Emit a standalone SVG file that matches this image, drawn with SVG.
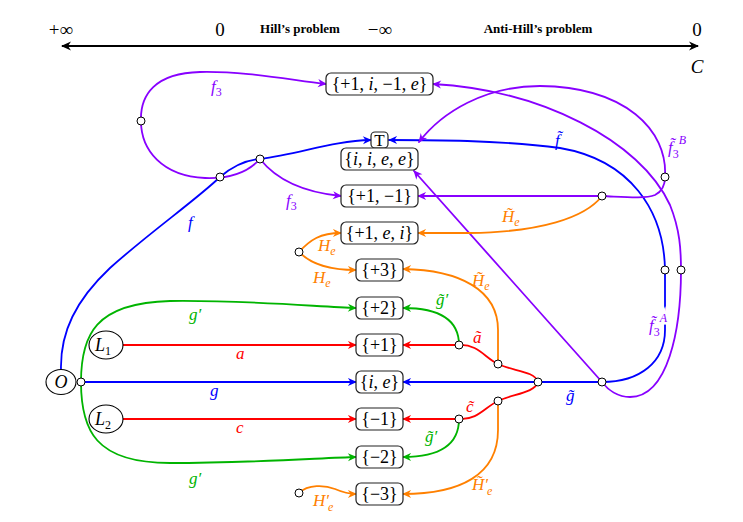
<svg xmlns="http://www.w3.org/2000/svg" width="743" height="522" viewBox="0 0 743 522">
<style>
.c{fill:none;stroke-width:1.8;stroke-linecap:round}
.P{stroke:#8800ff}.B{stroke:#0000ff}.R{stroke:#ff0000}.G{stroke:#00b400}.O{stroke:#ff8000}
.tP{fill:#8800ff}.tB{fill:#0000ff}.tR{fill:#ff0000}.tG{fill:#00b400}.tO{fill:#ff8000}
.box{fill:#fff;stroke:#222;stroke-width:1.2}
.nt{font-family:"Liberation Serif","DejaVu Serif",serif;font-size:18px;text-anchor:middle;fill:#000}
.it{font-style:italic}
.lb{font-family:"Liberation Serif","DejaVu Serif",serif;font-size:17px;font-style:italic}
.sb{font-size:12px;font-style:normal}
.sbi{font-size:12px;font-style:italic}
.ax{font-family:"Liberation Serif","DejaVu Serif",serif;font-size:19px;text-anchor:middle;fill:#000}
.hd{font-family:"Liberation Serif","DejaVu Serif",serif;font-size:13px;font-weight:bold;text-anchor:middle;fill:#000}
.dot{fill:#fff;stroke:#000;stroke-width:1}
.el{fill:#fff;stroke:#000;stroke-width:1.1}
.halo{paint-order:stroke;stroke:#fff;stroke-width:5}
</style>
<defs>
<marker id="aK" viewBox="0 0 10 10" refX="9" refY="5" markerUnits="userSpaceOnUse" markerWidth="12" markerHeight="10" orient="auto-start-reverse"><path d="M0,0.5 L10,5 L0,9.5 L3,5z" fill="#000"/></marker>
<marker id="aP" viewBox="0 0 10 10" refX="9" refY="5" markerUnits="userSpaceOnUse" markerWidth="11" markerHeight="9" orient="auto"><path d="M0,0.5 L10,5 L0,9.5 L3,5z" fill="#8800ff"/></marker>
<marker id="aB" viewBox="0 0 10 10" refX="9" refY="5" markerUnits="userSpaceOnUse" markerWidth="11" markerHeight="9" orient="auto"><path d="M0,0.5 L10,5 L0,9.5 L3,5z" fill="#0000ff"/></marker>
<marker id="aR" viewBox="0 0 10 10" refX="9" refY="5" markerUnits="userSpaceOnUse" markerWidth="11" markerHeight="9" orient="auto"><path d="M0,0.5 L10,5 L0,9.5 L3,5z" fill="#ff0000"/></marker>
<marker id="aG" viewBox="0 0 10 10" refX="9" refY="5" markerUnits="userSpaceOnUse" markerWidth="11" markerHeight="9" orient="auto"><path d="M0,0.5 L10,5 L0,9.5 L3,5z" fill="#00b400"/></marker>
<marker id="aO" viewBox="0 0 10 10" refX="9" refY="5" markerUnits="userSpaceOnUse" markerWidth="11" markerHeight="9" orient="auto"><path d="M0,0.5 L10,5 L0,9.5 L3,5z" fill="#ff8000"/></marker>
</defs>

<g id="axis">
<line x1="62" y1="46" x2="698" y2="46" stroke="#000" stroke-width="2.2" marker-start="url(#aK)" marker-end="url(#aK)"/>
<text class="ax" x="61" y="36">+∞</text>
<text class="ax" x="220" y="36">0</text>
<text class="hd" x="300" y="33">Hill’s problem</text>
<text class="ax" x="380" y="36">−∞</text>
<text class="hd" x="538" y="33">Anti-Hill’s problem</text>
<text class="ax" x="697" y="36">0</text>
<text class="ax it" x="697" y="73">C</text>
</g>

<g id="connectors">
<!-- blue -->
<path class="c B" d="M81,382 L356,382" marker-end="url(#aB)"/>
<path class="c B" d="M61,370 C60,332 76,300 110,268 C150,232 196,200 220,177 C233,166 246,160 260,159 C300,154 332,141 371,140" marker-end="url(#aB)"/>
<path class="c B" d="M665,270 C664,210 630,160 560,148 C500,140 430,140 389,140" marker-end="url(#aB)"/>
<path class="c B" d="M665,270 L665,330 C665,362 640,382 602,382 L403,382" marker-end="url(#aB)"/>
<!-- purple -->
<path class="c P" d="M141,121 C140,95 155,73 200,72 C245,71 290,80 326,84" marker-end="url(#aP)"/>
<path class="c P" d="M141,121 C141,150 162,176 205,178 C232,179 250,170 260,159"/>
<path class="c P" d="M260,159 C275,178 300,192 341,196" marker-end="url(#aP)"/>
<path class="c P" d="M602,196 L418,196" marker-end="url(#aP)"/>
<path class="c P" d="M602,196 C625,197 645,199 655,195 C663,191 665,185 665,177"/>
<path class="c P" d="M665,177 C668,130 625,87 540,86 C485,86 442,112 419,142" marker-end="url(#aP)"/>
<path class="c P" d="M602,382 C608,390 618,397 630,397 C668,397 681,330 681,270 C681,250 680,230 670,205 C640,140 540,90 433,84" marker-end="url(#aP)"/>
<path class="c P" d="M602,382 L414,171" marker-end="url(#aP)"/>
<!-- red -->
<path class="c R" d="M123,345 L356,345" marker-end="url(#aR)"/>
<path class="c R" d="M123,419 L356,419" marker-end="url(#aR)"/>
<path class="c R" d="M459,345 L403,345" marker-end="url(#aR)"/>
<path class="c R" d="M459,419 L403,419" marker-end="url(#aR)"/>
<path class="c R" d="M459,345 C478,344 485,358 498,364 C512,371 535,371 538,382"/>
<path class="c R" d="M459,419 C478,420 485,407 498,401 C512,394 535,393 538,382"/>
<!-- green -->
<path class="c G" d="M81,382 C81,335 95,303 170,301 C250,300 320,307 356,308" marker-end="url(#aG)"/>
<path class="c G" d="M81,382 C81,430 95,463 170,463 C250,463 320,458 356,457" marker-end="url(#aG)"/>
<path class="c G" d="M459,345 C459,320 440,308 403,308" marker-end="url(#aG)"/>
<path class="c G" d="M459,419 C459,445 440,457 403,457" marker-end="url(#aG)"/>
<!-- orange -->
<path class="c O" d="M299,252 C310,240 320,233 341,233" marker-end="url(#aO)"/>
<path class="c O" d="M299,252 C312,265 330,270 356,270" marker-end="url(#aO)"/>
<path class="c O" d="M299,493 C308,484 325,485 335,489 C342,492 350,494 356,494" marker-end="url(#aO)"/>
<path class="c O" d="M602,196 C585,218 540,232 470,233 L418,233" marker-end="url(#aO)"/>
<path class="c O" d="M498,364 L498,330 C498,290 460,270 403,269" marker-end="url(#aO)"/>
<path class="c O" d="M498,401 L498,430 C498,475 460,494 403,494" marker-end="url(#aO)"/>
<!-- junction points -->
<g id="points">
<circle class="dot" cx="81" cy="382" r="4"/>
<circle class="dot" cx="141" cy="121" r="4"/>
<circle class="dot" cx="220" cy="177" r="4"/>
<circle class="dot" cx="260" cy="159" r="4"/>
<circle class="dot" cx="299" cy="252" r="4"/>
<circle class="dot" cx="299" cy="493" r="4"/>
<circle class="dot" cx="459" cy="345" r="4"/>
<circle class="dot" cx="459" cy="419" r="4"/>
<circle class="dot" cx="498" cy="364" r="4"/>
<circle class="dot" cx="498" cy="401" r="4"/>
<circle class="dot" cx="538" cy="382" r="4"/>
<circle class="dot" cx="602" cy="196" r="4"/>
<circle class="dot" cx="602" cy="382" r="4"/>
<circle class="dot" cx="665" cy="177" r="4"/>
<circle class="dot" cx="665" cy="270" r="4"/>
<circle class="dot" cx="681" cy="270" r="4"/>
</g>
<!-- labels -->
<g id="labels">
<text class="lb tP" x="211" y="92">f<tspan class="sb" dy="4">3</tspan></text>
<text class="lb tP" x="286" y="206">f<tspan class="sb" dy="4">3</tspan></text>
<text class="lb tB" x="188" y="228">f</text>
<text class="lb tB" x="555" y="146">f&#x303;</text>
<text class="lb tP" x="668" y="153">f&#x303;<tspan class="sb" dy="5">3</tspan><tspan class="sbi" dy="-14">B</tspan></text>
<text class="lb tP halo" x="649" y="331">f&#x303;<tspan class="sb" dy="5">3</tspan><tspan class="sbi" dy="-14">A</tspan></text>
<text class="lb tO" x="502" y="222">H&#x303;<tspan class="sbi" dy="4">e</tspan></text>
<text class="lb tO" x="318" y="251">H<tspan class="sbi" dy="4">e</tspan></text>
<text class="lb tO" x="313" y="283">H<tspan class="sbi" dy="4">e</tspan></text>
<text class="lb tO" x="472" y="286">H&#x303;<tspan class="sbi" dy="4">e</tspan></text>
<text class="lb tG" x="436" y="305">g&#x303;′</text>
<text class="lb tR" x="473" y="343">a&#x303;</text>
<text class="lb tG" x="189" y="320">g′</text>
<text class="lb tR" x="236" y="359">a</text>
<text class="lb tB" x="210" y="396">g</text>
<text class="lb tB" x="566" y="401">g&#x303;</text>
<text class="lb tR" x="236" y="433">c</text>
<text class="lb tR" x="466" y="412">c&#x303;</text>
<text class="lb tG" x="425" y="442">g&#x303;′</text>
<text class="lb tG" x="189" y="484">g′</text>
<text class="lb tO" x="313" y="506">H′<tspan class="sbi" dx="-1" dy="5">e</tspan></text>
<text class="lb tO" x="472" y="490">H&#x303;′<tspan class="sbi" dx="-1" dy="5">e</tspan></text>
</g>
</g>

<g id="n-O"><ellipse class="el" cx="61" cy="382" rx="15" ry="12.5"/><text class="nt it" x="61" y="388">O</text></g>
<g id="n-L1"><ellipse class="el" cx="106" cy="345" rx="17" ry="14"/><text class="nt it" x="103" y="351">L<tspan class="sb" dy="4">1</tspan></text></g>
<g id="n-L2"><ellipse class="el" cx="106" cy="419" rx="17" ry="14"/><text class="nt it" x="103" y="425">L<tspan class="sb" dy="4">2</tspan></text></g>

<g id="n-p1ime"><rect class="box" x="326" y="73" width="107" height="22" rx="5"/><text class="nt" x="379.5" y="90">{+1, <tspan class="it">i</tspan>, −1, <tspan class="it">e</tspan>}</text></g>
<g id="n-T"><rect class="box" x="371" y="132" width="17" height="16" rx="4"/><text class="nt" x="379.5" y="146" style="font-size:17px">T</text></g>
<g id="n-iiee"><rect class="box" x="341" y="148" width="77" height="22" rx="5"/><text class="nt" x="379.5" y="165">{<tspan class="it">i</tspan>, <tspan class="it">i</tspan>, <tspan class="it">e</tspan>, <tspan class="it">e</tspan>}</text></g>
<g id="n-p1m1"><rect class="box" x="341" y="185" width="77" height="22" rx="5"/><text class="nt" x="379.5" y="202">{+1, −1}</text></g>
<g id="n-p1ei"><rect class="box" x="341" y="222" width="77" height="22" rx="5"/><text class="nt" x="379.5" y="239">{+1, <tspan class="it">e</tspan>, <tspan class="it">i</tspan>}</text></g>
<g id="n-p3"><rect class="box" x="356" y="259" width="47" height="22" rx="5"/><text class="nt" x="379.5" y="276">{+3}</text></g>
<g id="n-p2"><rect class="box" x="356" y="297" width="47" height="22" rx="5"/><text class="nt" x="379.5" y="314">{+2}</text></g>
<g id="n-p1"><rect class="box" x="356" y="334" width="47" height="22" rx="5"/><text class="nt" x="379.5" y="351">{+1}</text></g>
<g id="n-ie"><rect class="box" x="356" y="371" width="47" height="22" rx="5"/><text class="nt" x="379.5" y="388">{<tspan class="it">i</tspan>, <tspan class="it">e</tspan>}</text></g>
<g id="n-m1"><rect class="box" x="356" y="408" width="47" height="22" rx="5"/><text class="nt" x="379.5" y="425">{−1}</text></g>
<g id="n-m2"><rect class="box" x="356" y="446" width="47" height="22" rx="5"/><text class="nt" x="379.5" y="463">{−2}</text></g>
<g id="n-m3"><rect class="box" x="356" y="483" width="47" height="22" rx="5"/><text class="nt" x="379.5" y="500">{−3}</text></g>
</svg>
